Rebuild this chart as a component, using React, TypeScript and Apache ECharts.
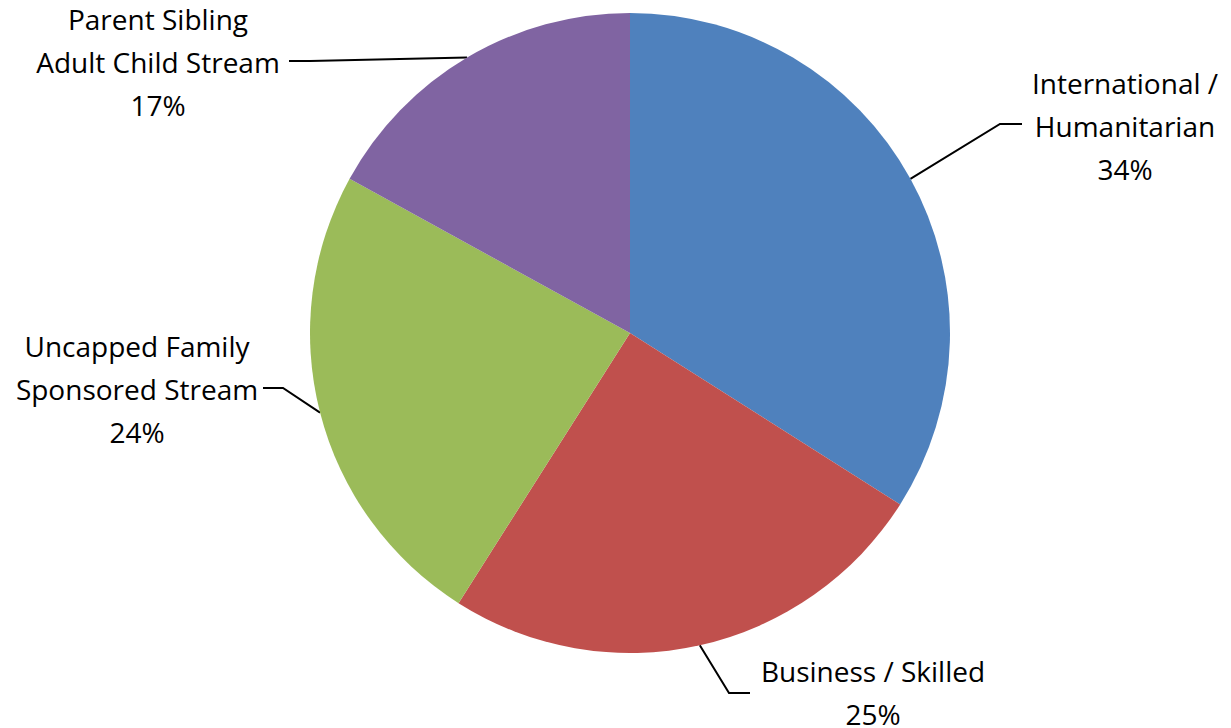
import React, { useEffect, useRef } from "react";
import * as echarts from "echarts";

const categories = [
  "International /\nHumanitarian",
  "Business / Skilled",
  "Uncapped Family\nSponsored Stream",
  "Parent Sibling\nAdult Child Stream",
];
const values = [34, 25, 24, 17];
const colors = ["#4F81BD", "#C0504D", "#9BBB59", "#8064A2"];

// label block centres and leader-line elbows/ends (layout only)
const labelCenters = [
  [1125, 126],
  [873, 692],
  [137, 389],
  [158, 62],
];
const leaderTails = [
  [[1000, 124], [1022, 124]],
  [[729, 693], [750, 693]],
  [[283, 388], [263, 388]],
  [[310, 61], [289, 61]],
];

export default function App() {
  const ref = useRef<HTMLDivElement>(null);
  useEffect(() => {
    if (!ref.current) return;
    const chart = echarts.init(ref.current, undefined, { renderer: "svg" });
    const cx = 630, cy = 333, r = 320;
    const total = values.reduce((a, b) => a + b, 0);
    chart.setOption({
      animation: false,
      backgroundColor: "#ffffff",
      series: [
        {
          type: "pie",
          center: [cx, cy],
          radius: r,
          startAngle: 90,
          clockwise: true,
          avoidLabelOverlap: false,
          data: categories.map((name, i) => ({
            name,
            value: values[i],
            itemStyle: { color: colors[i] },
          })),
          label: {
            show: true,
            formatter: (p: any) => `${p.name}\n${Math.round(p.percent)}%`,
            fontFamily: "Open Sans",
            fontSize: 28,
            lineHeight: 43,
            color: "#000",
            align: "center",
          },
          labelLine: {
            show: true,
            lineStyle: { color: "#000", width: 2 },
          },
          labelLayout: (p: any) => {
            const i = p.dataIndex;
            let before = 0;
            for (let k = 0; k < i; k++) before += values[k];
            const mid = ((before + values[i] / 2) / total) * 2 * Math.PI;
            const sx = cx + r * Math.sin(mid);
            const sy = cy - r * Math.cos(mid);
            return {
              x: labelCenters[i][0],
              y: labelCenters[i][1],
              align: "center",
              verticalAlign: "middle",
              labelLinePoints: [[sx, sy], leaderTails[i][0], leaderTails[i][1]],
            };
          },
        },
      ],
    });
    return () => chart.dispose();
  }, []);
  return (
    <div
      ref={ref}
      style={{ position: "fixed", left: 0, top: 0, width: 1231, height: 728 }}
    />
  );
}
